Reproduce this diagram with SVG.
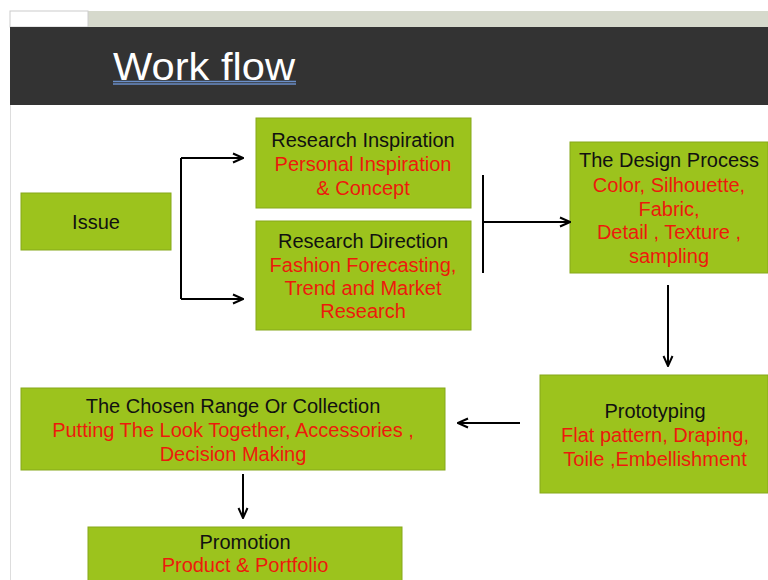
<svg xmlns="http://www.w3.org/2000/svg" width="768" height="580" viewBox="0 0 768 580">
<style>
.box{fill:#9cc31d;stroke:#86a81a;stroke-width:1}
text{font-family:"Liberation Sans",Arial,sans-serif;font-size:20px;text-anchor:middle}
.h{fill:#111}
.r{fill:#ec1a0c}
.c{fill:none;stroke:#000;stroke-width:2}
</style>
<defs>
<marker id="ah" viewBox="0 0 12 12" refX="11" refY="6" markerWidth="12" markerHeight="12" markerUnits="userSpaceOnUse" orient="auto">
<path d="M1,1.5 L11,6 L1,10.5" fill="none" stroke="#000" stroke-width="2"/>
</marker>
</defs>
<rect x="0" y="0" width="768" height="580" fill="#fff"/>
<rect x="10" y="11" width="758" height="16" fill="#d6d9cc"/>
<rect x="10" y="11" width="78" height="16" fill="#fff" stroke="#ccc" stroke-width="1"/>
<rect x="10" y="27" width="758" height="78" fill="#333"/>
<line x1="10.5" y1="105" x2="10.5" y2="580" stroke="#ddd" stroke-width="1"/>
<g id="title">
<text x="113" y="80" style="font-size:39px;text-anchor:start;fill:#fff" textLength="182" lengthAdjust="spacingAndGlyphs">Work flow</text>
<line x1="113" y1="81.5" x2="296" y2="81.5" stroke="#6a8ec8" stroke-width="1.5"/>
<line x1="113" y1="84" x2="296" y2="84" stroke="#6a8ec8" stroke-width="1.5"/>
</g>
<g id="issue">
<rect class="box" x="21" y="193" width="150" height="57"/>
<text class="h" x="96" y="229">Issue</text>
</g>
<g id="research-inspiration">
<rect class="box" x="256" y="118" width="215" height="90"/>
<text class="h" x="363" y="147">Research Inspiration</text>
<text class="r" x="363" y="171">Personal Inspiration</text>
<text class="r" x="363" y="195">&amp; Concept</text>
</g>
<g id="research-direction">
<rect class="box" x="256" y="221" width="215" height="109"/>
<text class="h" x="363" y="248">Research Direction</text>
<text class="r" x="363" y="272">Fashion Forecasting,</text>
<text class="r" x="363" y="295">Trend and Market</text>
<text class="r" x="363" y="318">Research</text>
</g>
<g id="design-process">
<rect class="box" x="570" y="142" width="198" height="131"/>
<text class="h" x="669" y="167">The Design Process</text>
<text class="r" x="669" y="192">Color, Silhouette,</text>
<text class="r" x="669" y="216">Fabric,</text>
<text class="r" x="669" y="239">Detail , Texture ,</text>
<text class="r" x="669" y="263">sampling</text>
</g>
<g id="prototyping">
<rect class="box" x="540" y="375" width="228" height="118"/>
<text class="h" x="655" y="418">Prototyping</text>
<text class="r" x="655" y="442">Flat pattern, Draping,</text>
<text class="r" x="655" y="466">Toile ,Embellishment</text>
</g>
<g id="chosen-range">
<rect class="box" x="21" y="388" width="424" height="82"/>
<text class="h" x="233" y="413">The Chosen Range Or Collection</text>
<text class="r" x="233" y="437">Putting The Look Together, Accessories ,</text>
<text class="r" x="233" y="461">Decision Making</text>
</g>
<g id="promotion">
<rect class="box" x="88" y="527" width="314" height="60"/>
<text class="h" x="245" y="549">Promotion</text>
<text class="r" x="245" y="572">Product &amp; Portfolio</text>
</g>
<g id="connectors">
<path class="c" d="M181,158 V299"/>
<path class="c" d="M181,158 H243" marker-end="url(#ah)"/>
<path class="c" d="M181,299 H243" marker-end="url(#ah)"/>
<path class="c" d="M483,175 V273"/>
<path class="c" d="M483,222 H570" marker-end="url(#ah)"/>
<path class="c" d="M668,285 V366" marker-end="url(#ah)"/>
<path class="c" d="M520,423 H458" marker-end="url(#ah)"/>
<path class="c" d="M243,474 V518" marker-end="url(#ah)"/>
</g>
</svg>
